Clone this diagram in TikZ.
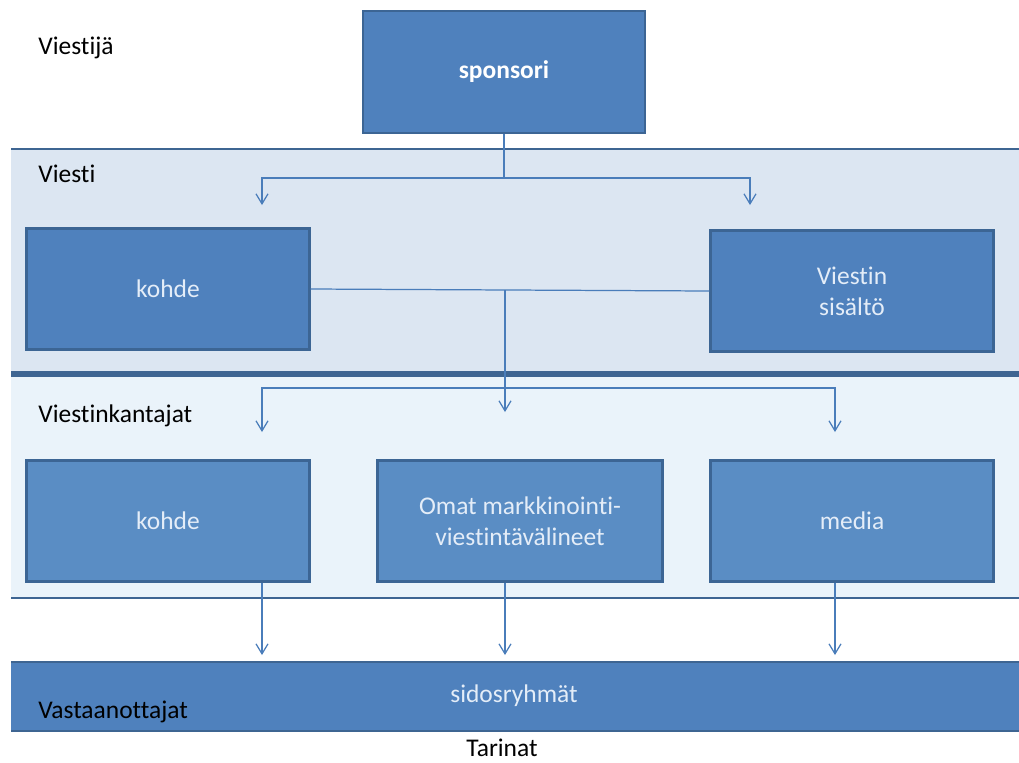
\documentclass[tikz,border=0pt]{standalone}
\usepackage{fontspec}
\setmainfont{Carlito}[Ligatures=NoCommon]
\usetikzlibrary{arrows.meta}

\definecolor{boxblue}{HTML}{4F81BD}
\definecolor{boxlight}{HTML}{5A8DC4}
\definecolor{boxline}{HTML}{3C6594}
\definecolor{boxtext}{HTML}{E4EDF8}
\definecolor{viestiband}{HTML}{DCE6F2}
\definecolor{kantajaband}{HTML}{EAF3FA}
\definecolor{bandline}{HTML}{3E6592}
\definecolor{linkblue}{HTML}{4A7DBA}

\tikzset{
  lohko/.style={draw=boxline, line width=1.2pt, fill=boxblue,
    minimum width=5.66cm, minimum height=2.42cm, text=boxtext,
    align=center, font=\fontsize{14.5}{17.5}\selectfont},
  taso/.style={anchor=west, inner sep=0pt, font=\fontsize{14.5}{17.5}\selectfont},
  linkki/.style={draw=linkblue, line width=0.7pt},
  nuoli/.style={linkki, -{Straight Barb[length=2mm,width=2.4mm]}}
}

\begin{document}
\begin{tikzpicture}[x=0.02cm, y=-0.02cm]
  \useasboundingbox (0,0) rectangle (1019,762);

  % tasot
  \fill[viestiband] (11,149) rectangle (1019,374);
  \fill[kantajaband] (11,374) rectangle (1019,598);
  \fill[boxblue] (11,662) rectangle (1019,731);
  \draw[bandline, line width=1.6pt] (11,149) -- (1019,149);
  \draw[bandline, line width=3pt] (11,374) -- (1019,374);
  \draw[bandline, line width=1.6pt] (11,598) -- (1019,598);
  \draw[bandline, line width=1.4pt] (11,662) -- (1019,662);
  \draw[bandline, line width=1.4pt] (11,731) -- (1019,731);

  \node[taso] (viestija) at (38,48) {Viestijä};
  \node[taso] (viesti) at (38,174) {Viesti};
  \node[taso] (kantajat) at (38,416) {Viestinkantajat};
  \node[taso] (vastaanottajat) at (38,712) {Vastaanottajat};
  \node[taso, anchor=center, text=boxtext] (sidos) at (514,696) {sidosryhmät};
  \node[taso, anchor=center] (tarinat) at (502,748) {Tarinat};

  % lohkot
  \node[lohko, minimum width=5.64cm, minimum height=2.44cm, text=white,
    font=\fontsize{14.5}{17.5}\selectfont\bfseries] (sponsori) at (504,72) {sponsori};
  \node[lohko] (kohde) at (168,289) {kohde};
  \node[lohko] (sisalto) at (852,291) {Viestin\\sisältö};
  \node[lohko, fill=boxlight] (kohde2) at (168,521) {kohde};
  \node[lohko, fill=boxlight, minimum width=5.7cm] (omat) at (520,521) {Omat markkinointi-\\viestintävälineet};
  \node[lohko, fill=boxlight] (media) at (852,521) {media};

  % nuolet
  \coordinate (v1) at (262,205);
  \coordinate (v2) at (750,205);
  \draw[nuoli] (sponsori.south) -- ++(0,44) -| (v1);
  \draw[nuoli] (sponsori.south) -- ++(0,44) -| (v2);

  \draw[linkki] (kohde.east) -- (sisalto.west);
  \coordinate (keski) at (505,290);
  \coordinate (haara) at (505,388);
  \coordinate (k1) at (262,432);
  \coordinate (k2) at (505,412);
  \coordinate (k3) at (835,432);
  \draw[nuoli] (keski) -- (k2);
  \draw[nuoli] (haara) -| (k1);
  \draw[nuoli] (haara) -| (k3);

  \coordinate (s1) at (262,655);
  \coordinate (s2) at (505,655);
  \coordinate (s3) at (835,655);
  \draw[nuoli] (kohde2.south -| s1) -- (s1);
  \draw[nuoli] (omat.south -| s2) -- (s2);
  \draw[nuoli] (media.south -| s3) -- (s3);
\end{tikzpicture}
\end{document}
